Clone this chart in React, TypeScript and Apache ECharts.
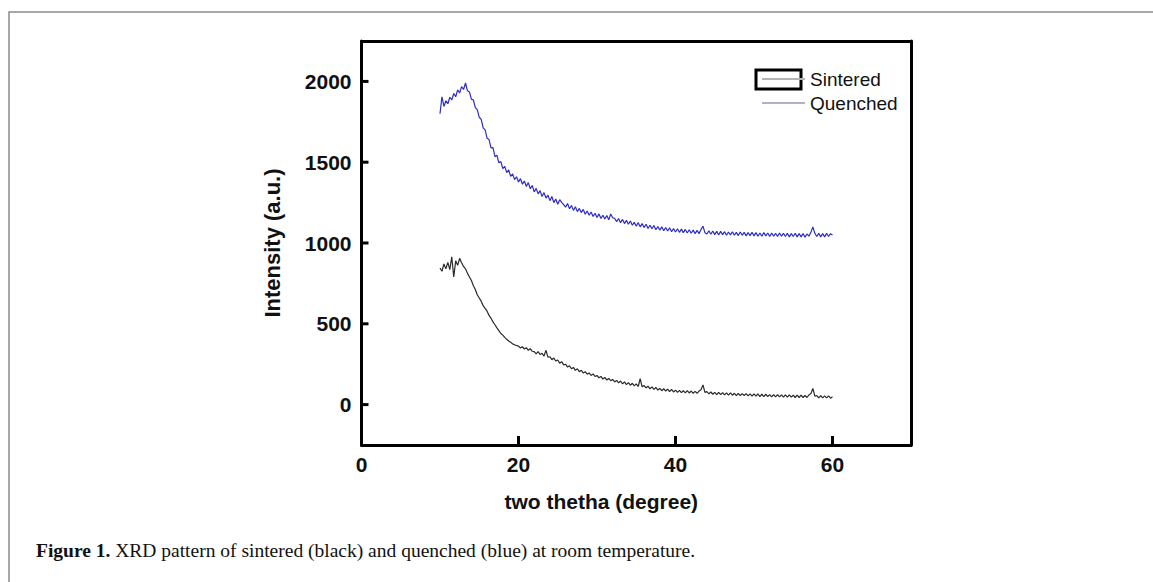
import React, { useEffect, useRef } from "react";
import * as echarts from "echarts";

// two theta sampling of the scans (degrees)
const ANGLE_START = 10;
const ANGLE_STEP = 0.25;

// Sintered scan (black), intensity in a.u., one value per 0.25 deg from 10 to 60
const sintered = [
  845, 825, 870, 840, 880, 835, 915, 790,
  890, 862, 905, 878, 855, 840, 812, 790,
  768, 735, 712, 680, 660, 640, 612, 595,
  578, 552, 534, 512, 494, 475, 458, 440,
  430, 416, 404, 394, 386, 376, 370, 366,
  362, 350, 358, 344, 352, 336, 346, 330,
  328, 314, 328, 310, 318, 300, 336, 294,
  296, 278, 288, 270, 276, 256, 266, 246,
  250, 232, 240, 222, 230, 212, 222, 204,
  212, 196, 204, 188, 196, 180, 190, 174,
  180, 166, 174, 158, 168, 152, 162, 148,
  156, 140, 150, 134, 146, 128, 140, 124,
  136, 120, 132, 116, 128, 112, 160, 110,
  118, 104, 114, 98, 110, 94, 106, 90,
  100, 86, 98, 84, 96, 80, 94, 78,
  90, 76, 88, 74, 86, 72, 86, 72,
  84, 70, 82, 70, 84, 92, 122, 76,
  80, 66, 78, 64, 76, 62, 76, 62,
  74, 60, 72, 58, 72, 58, 70, 56,
  70, 56, 68, 56, 68, 54, 66, 52,
  66, 52, 66, 50, 64, 50, 64, 50,
  62, 48, 62, 48, 62, 48, 60, 46,
  60, 46, 60, 46, 58, 44, 58, 44,
  58, 44, 56, 44, 60, 68, 100, 52,
  56, 42, 56, 42, 54, 42, 54, 40,
  48,
];

// Quenched scan (blue)
const quenched = [
  1800, 1905, 1845, 1880, 1862, 1902, 1885, 1925,
  1905, 1948, 1928, 1968, 1950, 1990, 1942, 1935,
  1890, 1885, 1838, 1825, 1778, 1765, 1712, 1700,
  1648, 1640, 1588, 1590, 1534, 1544, 1496, 1504,
  1460, 1474, 1436, 1452, 1412, 1428, 1392, 1410,
  1378, 1398, 1364, 1384, 1350, 1374, 1336, 1356,
  1316, 1338, 1304, 1324, 1288, 1312, 1278, 1296,
  1262, 1288, 1250, 1272, 1240, 1268, 1252, 1238,
  1222, 1244, 1212, 1232, 1202, 1224, 1194, 1214,
  1188, 1208, 1178, 1198, 1172, 1192, 1164, 1184,
  1158, 1180, 1152, 1172, 1148, 1170, 1144, 1180,
  1156, 1152, 1132, 1152, 1126, 1146, 1120, 1140,
  1116, 1136, 1110, 1128, 1104, 1126, 1100, 1120,
  1096, 1116, 1090, 1110, 1088, 1108, 1082, 1102,
  1080, 1100, 1076, 1096, 1074, 1094, 1070, 1090,
  1068, 1088, 1066, 1086, 1064, 1084, 1062, 1082,
  1060, 1080, 1058, 1078, 1058, 1084, 1104, 1064,
  1056, 1076, 1054, 1074, 1052, 1072, 1050, 1072,
  1052, 1070, 1048, 1068, 1050, 1070, 1048, 1066,
  1046, 1068, 1048, 1066, 1044, 1064, 1046, 1066,
  1044, 1064, 1042, 1062, 1042, 1064, 1044, 1062,
  1040, 1062, 1042, 1060, 1040, 1062, 1042, 1060,
  1040, 1060, 1038, 1058, 1040, 1060, 1038, 1058,
  1038, 1058, 1036, 1056, 1042, 1066, 1100, 1060,
  1040, 1060, 1038, 1058, 1038, 1060, 1040, 1058,
  1050,
];

const xTicks = [0, 20, 40, 60];
const yTicks = [0, 500, 1000, 1500, 2000];
const X_MIN = 0;
const X_MAX = 70;
const Y_MIN = -250;
const Y_MAX = 2250;

const seriesNames = ["Sintered", "Quenched"];
const xTitle = "two thetha (degree)";
const yTitle = "Intensity (a.u.)";
const captionBold = "Figure 1.";
const captionText = " XRD pattern of sintered (black) and quenched (blue) at room temperature.";

const toPairs = (vals: number[]) =>
  vals.map((v, i) => [ANGLE_START + i * ANGLE_STEP, v]);

const SANS = "'Liberation Sans', Arial, Helvetica, sans-serif";
const SERIF = "'Liberation Serif', 'Times New Roman', serif";

const frameAxis = {
  axisLine: { onZero: false, lineStyle: { color: "#000", width: 3 } },
  axisTick: { show: false },
  axisLabel: { show: false },
  splitLine: { show: false },
};

export default function App() {
  const ref = useRef<HTMLDivElement>(null);

  useEffect(() => {
    if (!ref.current) return;
    const chart = echarts.init(ref.current, undefined, { renderer: "svg" });
    chart.setOption({
      animation: false,
      backgroundColor: "#ffffff",
      grid: {
        left: 361.5,
        top: 41,
        right: 1153 - 911,
        bottom: 582 - 445,
      },
      legend: {
        orient: "vertical",
        left: 757,
        top: 64,
        itemWidth: 43,
        itemHeight: 2,
        itemGap: 4,
        selectedMode: false,
        textStyle: {
          fontFamily: SANS,
          fontSize: 19,
          color: "#111",
          lineHeight: 20,
        },
        data: [
          { name: seriesNames[0], icon: "rect", itemStyle: { color: "#b4b4b4" } },
          { name: seriesNames[1], icon: "rect", itemStyle: { color: "#b0b0c8" } },
        ],
      },
      xAxis: [
        {
          type: "value",
          position: "bottom",
          min: X_MIN,
          max: X_MAX,
          name: xTitle,
          nameLocation: "middle",
          nameGap: 46,
          nameTextStyle: {
            fontFamily: SANS,
            fontSize: 21,
            fontWeight: "bold",
            color: "#111",
            padding: [0, 70, 0, 0],
          },
          axisLine: { onZero: false, lineStyle: { color: "#000", width: 3 } },
          axisTick: { show: false },
          axisLabel: {
            fontFamily: SANS,
            fontSize: 21,
            fontWeight: "bold",
            color: "#111",
            margin: 9,
            customValues: xTicks,
            formatter: (v: number) => String(v),
          },
          splitLine: { show: false },
        },
        { type: "value", position: "top", min: X_MIN, max: X_MAX, ...frameAxis },
      ],
      yAxis: [
        {
          type: "value",
          position: "left",
          min: Y_MIN,
          max: Y_MAX,
          name: yTitle,
          nameLocation: "middle",
          nameGap: 78,
          nameTextStyle: {
            fontFamily: SANS,
            fontSize: 22,
            fontWeight: "bold",
            color: "#111",
          },
          axisLine: { onZero: false, lineStyle: { color: "#000", width: 3 } },
          axisTick: { show: false },
          axisLabel: {
            fontFamily: SANS,
            fontSize: 21,
            fontWeight: "bold",
            color: "#111",
            margin: 10,
            customValues: yTicks,
            formatter: (v: number) => String(v),
          },
          splitLine: { show: false },
        },
        { type: "value", position: "right", min: Y_MIN, max: Y_MAX, ...frameAxis },
      ],
      series: [
        {
          name: seriesNames[0],
          type: "line",
          data: toPairs(sintered),
          showSymbol: false,
          symbol: "none",
          lineStyle: { color: "#2a2a2a", width: 1.2 },
          itemStyle: { color: "#2a2a2a" },
        },
        {
          name: seriesNames[1],
          type: "line",
          data: toPairs(quenched),
          showSymbol: false,
          symbol: "none",
          lineStyle: { color: "#2c2cc8", width: 1.2 },
          itemStyle: { color: "#2c2cc8" },
        },
        {
          // inward tick marks of the bottom axis
          name: "xTickMarks",
          type: "custom",
          silent: true,
          clip: false,
          data: xTicks.map((v) => [v, Y_MIN]),
          renderItem: (_p: any, api: any) => {
            const pt = api.coord([api.value(0), api.value(1)]);
            return {
              type: "line",
              shape: { x1: pt[0], y1: pt[1], x2: pt[0], y2: pt[1] - 9 },
              style: { stroke: "#000", lineWidth: 3 },
            };
          },
        },
        {
          // inward tick marks of the left axis
          name: "yTickMarks",
          type: "custom",
          silent: true,
          clip: false,
          data: yTicks.map((v) => [X_MIN, v]),
          renderItem: (_p: any, api: any) => {
            const pt = api.coord([api.value(0), api.value(1)]);
            return {
              type: "line",
              shape: { x1: pt[0], y1: pt[1], x2: pt[0] + 7, y2: pt[1] },
              style: { stroke: "#000", lineWidth: 3 },
            };
          },
        },
      ],
      graphic: [
        {
          type: "rect",
          shape: { x: 9, y: 12, width: 1300, height: 800 },
          style: { fill: "none", stroke: "#8a8a8a", lineWidth: 1.5 },
          silent: true,
        },
        {
          type: "rect",
          shape: { x: 756, y: 70, width: 45, height: 19 },
          style: { fill: "none", stroke: "#000", lineWidth: 3 },
          silent: true,
        },
        {
          type: "text",
          left: 36,
          top: 540,
          style: {
            text: "{b|" + captionBold + "}{r|" + captionText + "}",
            rich: {
              b: { fontFamily: SERIF, fontSize: 19.5, fontWeight: "bold", fill: "#111" },
              r: { fontFamily: SERIF, fontSize: 19.5, fill: "#111" },
            },
          },
        },
      ],
    });
    return () => chart.dispose();
  }, []);

  return (
    <div
      ref={ref}
      style={{ position: "fixed", left: 0, top: 0, width: 1153, height: 582 }}
    />
  );
}
